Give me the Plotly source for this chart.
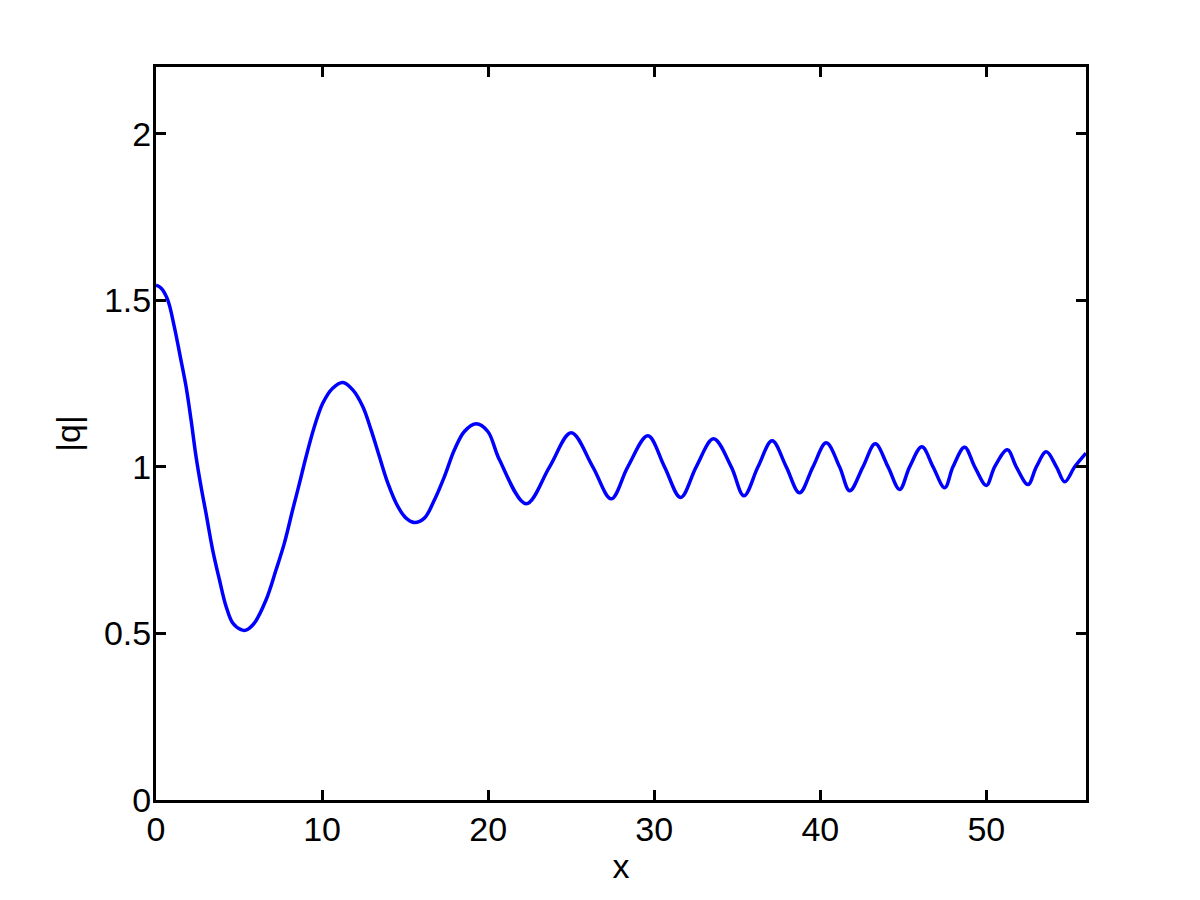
import plotly.graph_objects as go

x_vals = [0.0, 0.30, 0.70, 1.10, 1.46, 1.81, 2.11, 2.41, 2.71, 3.01, 3.41, 3.82, 4.22, 4.62,
          5.12, 5.42, 5.92, 6.63, 7.23, 7.73, 8.23, 8.64, 9.04, 9.54, 10.04, 10.64,
          11.25, 11.85, 12.45, 12.95, 13.45, 13.96, 14.56, 15.06, 15.56, 16.16, 16.77,
          17.37, 17.97, 18.57, 19.28, 19.98, 20.68,
          22.29, 23.70, 25.00, 26.30, 27.41, 28.41, 29.62, 30.62, 31.59, 32.53, 33.57,
          34.64, 35.40, 36.25, 37.10, 37.95, 38.75, 39.56, 40.36, 41.16, 41.77, 42.57,
          43.31, 44.08, 44.78, 45.38, 46.12, 46.79, 47.49, 47.99, 48.69, 49.30, 50.00,
          50.50, 51.27, 51.80, 52.51, 53.01, 53.61, 54.22, 54.72, 55.32, 56.0]
q_vals = [1.545, 1.537, 1.502, 1.421, 1.331, 1.241, 1.141, 1.031, 0.941, 0.861, 0.751, 0.661, 0.581, 0.531,
          0.511, 0.510, 0.531, 0.601, 0.691, 0.771, 0.871, 0.951, 1.031, 1.121, 1.191, 1.236,
          1.253, 1.231, 1.181, 1.111, 1.031, 0.951, 0.881, 0.846, 0.833, 0.846, 0.901,
          0.971, 1.051, 1.106, 1.129, 1.106, 1.021,
          0.889, 1.00, 1.102, 1.00, 0.904, 1.00, 1.093, 1.00, 0.908, 1.00, 1.084,
          1.00, 0.913, 1.00, 1.078, 1.00, 0.922, 1.00, 1.072, 1.00, 0.928, 1.00,
          1.069, 1.00, 0.932, 1.00, 1.060, 1.00, 0.937, 1.00, 1.059, 1.00, 0.944,
          1.00, 1.051, 1.00, 0.947, 1.00, 1.045, 1.00, 0.955, 1.00, 1.041]

x_ticks = [0, 10, 20, 30, 40, 50]
y_ticks = [0, 0.5, 1, 1.5, 2]
y_tick_text = ["0", "0.5", "1", "1.5", "2"]

fig = go.Figure()
fig.add_trace(go.Scatter(x=x_vals, y=q_vals, mode="lines",
                         line=dict(color="#0000FF", width=3.5, shape="spline", smoothing=1.0),
                         showlegend=False, hoverinfo="skip"))

font = dict(family="Liberation Sans, Arial, sans-serif", size=34, color="black")
axis_common = dict(showline=True, linecolor="black", linewidth=3, mirror="ticks",
                   ticks="inside", ticklen=10, tickwidth=3, tickcolor="black",
                   showgrid=False, zeroline=False, tickfont=font)

fig.update_layout(
    width=1200, height=900,
    paper_bgcolor="white", plot_bgcolor="white",
    margin=dict(l=148, r=122, t=59, b=108),
    xaxis=dict(range=[0, 56], tickvals=x_ticks, ticktext=[str(t) for t in x_ticks],
               title=dict(text="x", font=font, standoff=8), ticklabelstandoff=-3, **axis_common),
    yaxis=dict(range=[0, 2.2], tickvals=y_ticks, ticktext=y_tick_text,
               title=dict(text="|q|", font=font, standoff=14), ticklabelstandoff=-5, **axis_common),
)

fig.write_html("out.html")
